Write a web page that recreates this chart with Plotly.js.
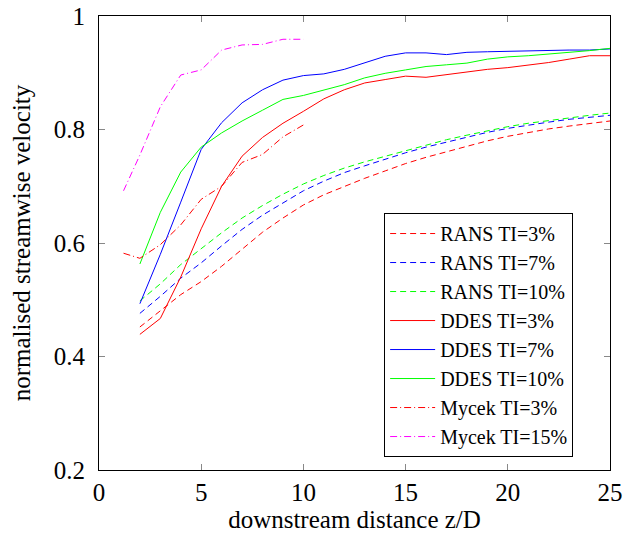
<!DOCTYPE html>
<html>
<head>
<meta charset="utf-8">
<script src="https://cdn.plot.ly/plotly-3.0.1.min.js"></script>
</head>
<body style="margin:0">
<div id="chart"></div>
<script>
const xRANS = [2,3,4,5,6,7,8,9,10,11,12,13,14,15,16,17,18,19,20,21,22,23,24,25];
const rans3 = [0.452,0.481,0.509,0.532,0.559,0.589,0.619,0.644,0.667,0.685,0.700,0.714,0.727,0.740,0.751,0.761,0.771,0.780,0.788,0.795,0.801,0.806,0.811,0.815];
const rans7 = [0.476,0.506,0.538,0.565,0.595,0.624,0.649,0.671,0.692,0.709,0.724,0.736,0.748,0.759,0.769,0.778,0.787,0.795,0.802,0.808,0.813,0.818,0.822,0.825];
const rans10 = [0.498,0.528,0.562,0.590,0.618,0.644,0.666,0.686,0.704,0.719,0.732,0.743,0.753,0.763,0.773,0.782,0.790,0.798,0.805,0.811,0.816,0.821,0.825,0.829];

const xDDES = [2,3,4,5,6,7,8,9,10,11,12,13,14,15,16,17,18,19,20,21,22,23,24,25];
const ddes3 = [0.439,0.467,0.540,0.625,0.700,0.753,0.786,0.811,0.832,0.854,0.870,0.882,0.888,0.894,0.892,0.897,0.902,0.906,0.909,0.913,0.918,0.924,0.930,0.930];
const ddes7 = [0.493,0.580,0.672,0.765,0.812,0.847,0.870,0.887,0.895,0.898,0.906,0.918,0.929,0.935,0.935,0.932,0.936,0.937,0.938,0.938,0.939,0.940,0.940,0.942];
const ddes10 = [0.563,0.654,0.725,0.769,0.794,0.815,0.834,0.853,0.860,0.870,0.879,0.891,0.899,0.905,0.911,0.914,0.917,0.924,0.928,0.930,0.933,0.935,0.939,0.943];

const xMycek = [1.2,2,3,4,5,6,7,8,9,10];
const mycek3 = [0.582,0.573,0.597,0.632,0.677,0.700,0.742,0.756,0.787,0.808];
const mycek15 = [0.692,0.755,0.840,0.896,0.905,0.940,0.949,0.950,0.959,0.959];

const names = ["RANS TI=3%","RANS TI=7%","RANS TI=10%","DDES TI=3%","DDES TI=7%","DDES TI=10%","Mycek TI=3%","Mycek TI=15%"];
const colors = ["#ff0000","#0000ff","#00ff00","#ff0000","#0000ff","#00ff00","#ff0000","#ff00ff"];
const xs = [xRANS,xRANS,xRANS,xDDES,xDDES,xDDES,xMycek,xMycek];
const ys = [rans3,rans7,rans10,ddes3,ddes7,ddes10,mycek3,mycek15];
const dashes = ["6px,4px","6px,4px","6px,4px","solid","solid","solid","7px,3px,1px,3px","7px,3px,1px,3px"];

const traces = names.map((n,i)=>({
  x: xs[i], y: ys[i], name: n, type: "scatter", mode: "lines",
  line: {color: colors[i], width: 1, dash: dashes[i]}
}));

const SERIF = "Liberation Serif";
const layout = {
  width: 641, height: 540,
  margin: {l: 99, r: 31, t: 16, b: 70},
  showlegend: true,
  font: {family: SERIF, size: 20, color: "#000"},
  xaxis: {
    range: [0, 25], tickvals: [0,5,10,15,20,25],
    ticks: "inside", ticklen: 6, tickcolor: "#888",
    showline: true, linecolor: "#000", mirror: "allticks",
    showgrid: false, zeroline: false,
    tickfont: {family: SERIF, size: 25, color: "#000"},
    title: {text: "downstream distance z/D", font: {family: SERIF, size: 25, color: "#000"}, standoff: 2}
  },
  yaxis: {
    range: [0.2, 1], tickvals: [0.2,0.4,0.6,0.8,1],
    ticks: "inside", ticklen: 6, tickcolor: "#888",
    showline: true, linecolor: "#000", mirror: "allticks",
    showgrid: false, zeroline: false, ticklabelstandoff: 8,
    tickfont: {family: SERIF, size: 25, color: "#000"},
    title: {text: "normalised streamwise velocity", font: {family: SERIF, size: 25, color: "#000"}, standoff: 16}
  },
  legend: {
    x: 0.558, y: 0.566, xanchor: "left", yanchor: "top",
    bgcolor: "#fff", bordercolor: "#000", borderwidth: 1,
    itemwidth: 45,
    font: {family: SERIF, size: 20, color: "#000"}
  }
};
Plotly.newPlot("chart", traces, layout, {displayModeBar: false});
</script>
</body>
</html>
